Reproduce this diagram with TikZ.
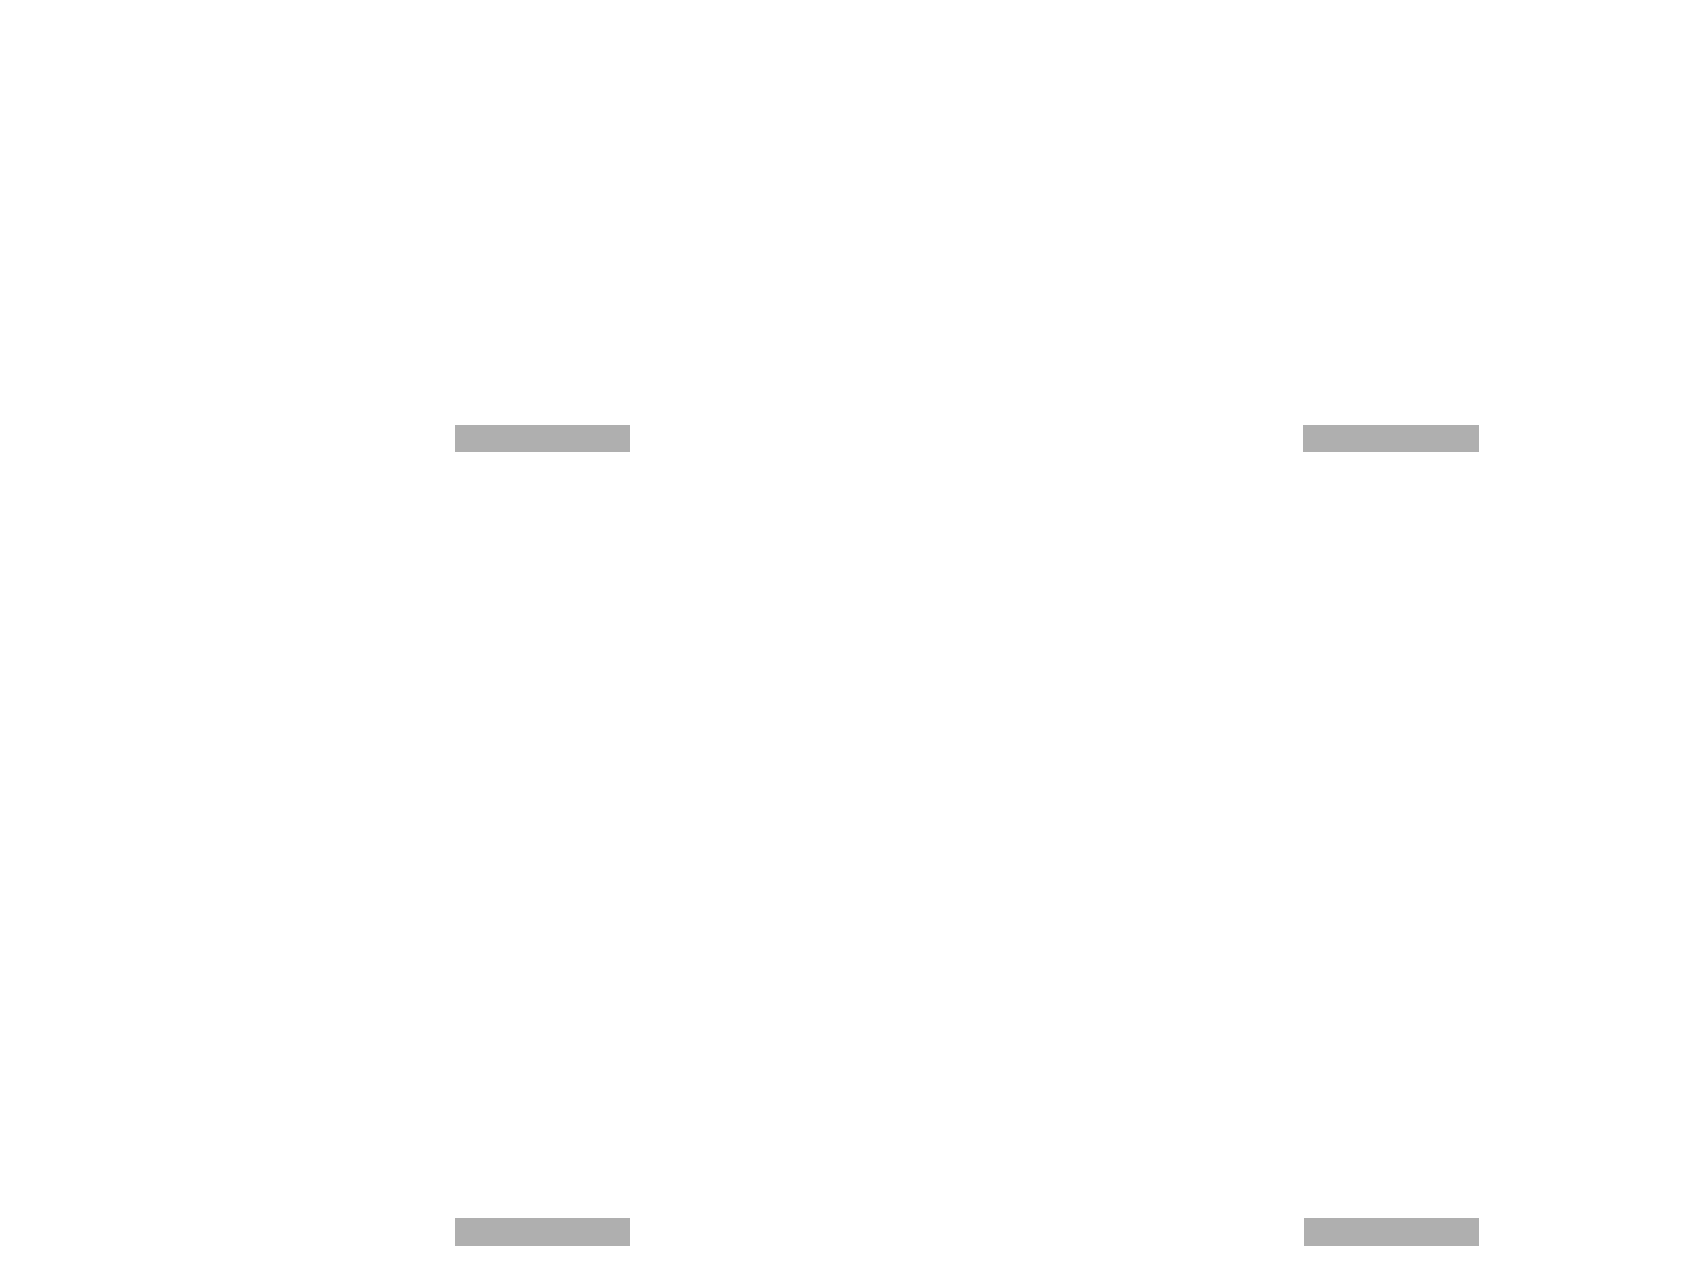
\documentclass[tikz,border=0pt]{standalone}
\definecolor{bargray}{RGB}{175,175,175}
\tikzset{barshape/.style={fill=bargray, draw=none}}
\begin{document}
\begin{tikzpicture}[x=0.01cm, y=-0.01cm]
\fill[white] (0,0) rectangle (1708,1281);
\useasboundingbox (0,0) rectangle (1708,1281);
\fill[barshape] (455,425) rectangle (630,452);
\fill[barshape] (1303,425) rectangle (1479,452);
\fill[barshape] (455,1218) rectangle (630,1246);
\fill[barshape] (1304,1218) rectangle (1479,1246);
\end{tikzpicture}
\end{document}
